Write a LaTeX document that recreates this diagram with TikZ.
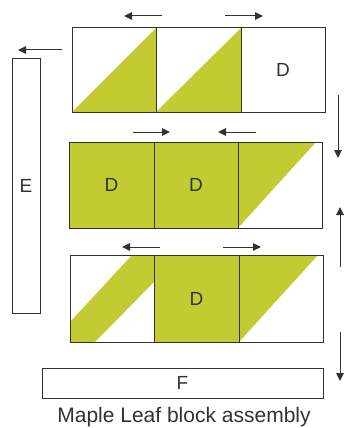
\documentclass[tikz,border=0pt]{standalone}
\usepackage{fontspec}
\setmainfont{Liberation Sans}
\usetikzlibrary{arrows.meta}
\definecolor{leaf}{RGB}{194,204,50}
\definecolor{ink}{RGB}{50,50,50}
\begin{document}
\begin{tikzpicture}[x=1pt,y=-1pt,
  sq/.style={draw=ink,line width=1pt,inner sep=0pt,outer sep=0pt,anchor=north west,font=\fontsize{19}{19}\selectfont,text=ink},
  arr/.style={draw=ink,line width=1pt,-{Triangle[length=8pt,width=7.5pt]}},
  lbl/.style={font=\fontsize{21}{21}\selectfont,text=ink}]
\useasboundingbox (0,0) rectangle (343,428);
% row 1
\fill[leaf] (72,112) -- (156,28) -- (156,112) -- cycle;
\fill[leaf] (156,112) -- (241,28) -- (241,112) -- cycle;
\node[sq,minimum width=84pt,minimum height=84pt] (a1) at (72,28) {};
\node[sq,minimum width=85pt,minimum height=84pt] (a2) at (156,28) {};
\node[sq,minimum width=84pt,minimum height=84pt] (a3) at (241,28) {D};
% row 2
\fill[leaf] (238,142) -- (316,142) -- (238,228) -- cycle;
\node[sq,fill=leaf,minimum width=85pt,minimum height=86pt] (b1) at (69,142) {D};
\node[sq,fill=leaf,minimum width=84pt,minimum height=86pt] (b2) at (154,142) {D};
\node[sq,minimum width=84pt,minimum height=86pt] (b3) at (238,142) {};
% row 3
\fill[leaf] (70,322) -- (132,255) -- (154,255) -- (154,282) -- (95,342) -- (70,342) -- cycle;
\fill[leaf] (239,255) -- (318,255) -- (239,342) -- cycle;
\node[sq,minimum width=84pt,minimum height=87pt] (c1) at (70,255) {};
\node[sq,fill=leaf,minimum width=85pt,minimum height=87pt] (c2) at (154,255) {D};
\node[sq,minimum width=84pt,minimum height=87pt] (c3) at (239,255) {};
% side bars
\node[sq,minimum width=28pt,minimum height=254pt] (e) at (12,59) {E};
\node[sq,minimum width=281pt,minimum height=30pt] (f) at (42,368) {F};
% caption
\node[lbl,anchor=base] (cap) at (184,422.5) {Maple Leaf block assembly};
% arrows
\coordinate (t1s) at (162,16); \coordinate (t1e) at (124,16);
\coordinate (t2s) at (225,16); \coordinate (t2e) at (263,16);
\coordinate (es) at (62,50); \coordinate (ee) at (18,50);
\coordinate (m1s) at (133,132); \coordinate (m1e) at (170,132);
\coordinate (m2s) at (256,132); \coordinate (m2e) at (218,132);
\coordinate (l1s) at (160,247); \coordinate (l1e) at (122,247);
\coordinate (l2s) at (223,247); \coordinate (l2e) at (261,247);
\coordinate (v1s) at (338,95); \coordinate (v1e) at (338,158);
\coordinate (v2s) at (340,267); \coordinate (v2e) at (340,207);
\coordinate (v3s) at (340,332); \coordinate (v3e) at (340,381);
\foreach \p in {t1,t2,e,m1,m2,l1,l2,v1,v2,v3} \draw[arr] (\p s) -- (\p e);
\end{tikzpicture}
\end{document}
